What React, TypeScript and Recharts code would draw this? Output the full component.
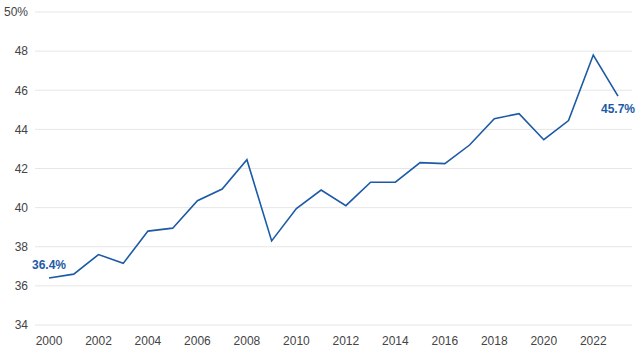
import React from "react";
import { LineChart, Line, XAxis, YAxis, CartesianGrid } from "recharts";

const years = [2000, 2001, 2002, 2003, 2004, 2005, 2006, 2007, 2008, 2009, 2010, 2011, 2012, 2013, 2014, 2015, 2016, 2017, 2018, 2019, 2020, 2021, 2022, 2023];
const shares = [36.4, 36.6, 37.6, 37.15, 38.8, 38.95, 40.35, 40.95, 42.45, 38.3, 39.95, 40.9, 40.1, 41.3, 41.3, 42.3, 42.25, 43.2, 44.55, 44.8, 43.47, 44.45, 47.8, 45.7];
const yTicks = [34, 36, 38, 40, 42, 44, 46, 48, 50];
const endLabels = ["36.4%", "45.7%"];

const data = years.map((y, i) => ({ year: String(y), value: shares[i] }));

const BLUE = "#1c5aa6";

const renderLabel = (props: any) => {
  const { x, y, index } = props;
  if (index === 0) {
    return (
      <text x={x} y={y - 13} textAnchor="middle" dominantBaseline="central" fill={BLUE} fontWeight="bold" fontSize={12} fontFamily="Liberation Sans, Arial, sans-serif">
        {endLabels[0]}
      </text>
    );
  }
  if (index === data.length - 1) {
    return (
      <text x={x} y={y + 13} textAnchor="middle" dominantBaseline="central" fill={BLUE} fontWeight="bold" fontSize={12} fontFamily="Liberation Sans, Arial, sans-serif">
        {endLabels[1]}
      </text>
    );
  }
  return null;
};

export default function App() {
  return (
    <div style={{ position: "fixed", left: 0, top: 0, background: "#fff" }}>
      <LineChart width={640} height={350} data={data} margin={{ top: 12, right: 8, bottom: 0, left: 0 }}>
        <CartesianGrid vertical={false} stroke="#e6e6e6" strokeWidth={1} />
        <XAxis
          dataKey="year"
          interval={1}
          axisLine={false}
          tickLine={false}
          tickSize={8}
          tickMargin={3}
          height={25}
          padding={{ left: 14, right: 14 }}
          tick={{ fill: "#444", fontSize: 12, fontFamily: "Liberation Sans, Arial, sans-serif" }}
        />
        <YAxis
          domain={[34, 50]}
          ticks={yTicks}
          width={35}
          axisLine={false}
          tickLine={false}
          tickSize={5}
          tickMargin={2}
          tickFormatter={(v: number) => (v === 50 ? `${v}%` : `${v}`)}
          tick={{ fill: "#444", fontSize: 12, fontFamily: "Liberation Sans, Arial, sans-serif" }}
        />
        <Line
          type="linear"
          dataKey="value"
          stroke={BLUE}
          strokeWidth={1.6}
          dot={false}
          isAnimationActive={false}
          label={renderLabel}
        />
      </LineChart>
    </div>
  );
}
